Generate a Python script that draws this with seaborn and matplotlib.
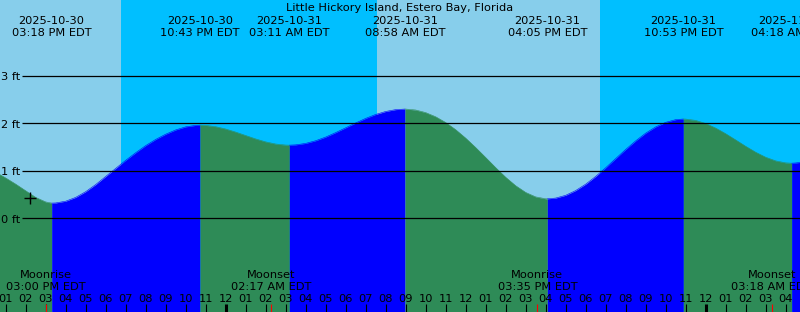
import numpy as np
import pandas as pd
import matplotlib
matplotlib.use("Agg")
import matplotlib.pyplot as plt
import matplotlib.transforms as mtransforms
import seaborn as sns

# ---------------- data ----------------
title = "Little Hickory Island, Estero Bay, Florida"
base_day = "2025-10-30 00:00"
view_start = "2025-10-30 12:43"
view_hours = 40

event_times = ["2025-10-30 15:18", "2025-10-30 22:43", "2025-10-31 03:11",
               "2025-10-31 08:58", "2025-10-31 16:05", "2025-10-31 22:53",
               "2025-11-01 04:18"]
event_heights = [0.32, 1.96, 1.54, 2.30, 0.41, 2.09, 1.16]
event_dates = ["2025-10-30", "2025-10-30", "2025-10-31", "2025-10-31",
               "2025-10-31", "2025-10-31", "2025-11-01"]
event_clock = ["03:18 PM EDT", "10:43 PM EDT", "03:11 AM EDT", "08:58 AM EDT",
               "04:05 PM EDT", "10:53 PM EDT", "04:18 AM EDT"]

# half-hourly readings of the tide curve (ft), starting 2025-10-30 12:00
curve_start = "2025-10-30 12:00"
curve_step_minutes = 30
curve_heights = [
    1.08, 0.97, 0.85, 0.72, 0.58, 0.44, 0.345, 0.323,          # 12:00-15:30
    0.36, 0.44, 0.56, 0.71, 0.88, 1.05, 1.22, 1.38,            # 16:00-19:30
    1.53, 1.66, 1.77, 1.86, 1.925, 1.956, 1.956, 1.929,        # 20:00-23:30
    1.88, 1.815, 1.743, 1.671, 1.609, 1.564, 1.542, 1.546,     # 00:00-03:30
    1.577, 1.633, 1.71, 1.804, 1.905, 2.007, 2.103, 2.186,     # 04:00-07:30
    2.249, 2.288, 2.30, 2.28, 2.226, 2.138, 2.017, 1.866,      # 08:00-11:30
    1.688, 1.49, 1.28, 1.067, 0.864, 0.686, 0.545, 0.451,      # 12:00-15:30
    0.411, 0.426, 0.484, 0.584, 0.718, 0.881, 1.064, 1.257,    # 16:00-19:30
    1.449, 1.63, 1.792, 1.924, 2.02, 2.077, 2.089, 2.061,      # 20:00-23:30
    1.996, 1.90, 1.781, 1.65, 1.516, 1.391, 1.286, 1.209,      # 00:00-03:30
    1.167, 1.165, 1.19,                                        # 04:00-05:00
]

sun_times = ["2025-10-30 18:46", "2025-10-31 07:34", "2025-10-31 18:43"]

moon_names = ["Moonrise", "Moonset", "Moonrise", "Moonset"]
moon_times = ["2025-10-30 15:00", "2025-10-31 02:17", "2025-10-31 15:35",
              "2025-11-01 03:18"]
moon_clock = ["03:00 PM EDT", "02:17 AM EDT", "03:35 PM EDT", "03:18 AM EDT"]

height_ticks = [0, 1, 2, 3]
height_labels = ["0 ft", "1 ft", "2 ft", "3 ft"]

now_time = "2025-10-30 14:13"
now_height = 0.42

# ---------------- helpers ----------------
base = pd.Timestamp(base_day)


def hrs(s):
    return (pd.Timestamp(s) - base).total_seconds() / 3600.0


DAY = "#87CEEB"
NIGHT = "#00BFFF"
FALL = "#2E8B57"
RISE = "#0000FF"

W, H = 800, 312
ZERO_PX, FT_PX = 218.3, 47.5
FS = 8.2

x0 = hrs(view_start)
x1 = x0 + view_hours
ybot = (ZERO_PX - H) / FT_PX
ytop = ZERO_PX / FT_PX

ev_t = np.array([hrs(s) for s in event_times])
ev_h = np.array(event_heights)
cv_t = hrs(curve_start) + np.arange(len(curve_heights)) * curve_step_minutes / 60.0
cv_h = np.array(curve_heights)

df = pd.DataFrame({"t": np.concatenate([cv_t, ev_t]),
                   "h": np.concatenate([cv_h, ev_h])}).sort_values("t")
df = df.drop_duplicates("t").reset_index(drop=True)

sns.set_theme(style="white")
plt.rcParams["font.family"] = ["DejaVu Sans"]

fig = plt.figure(figsize=(W / 100, H / 100), dpi=100)
ax = fig.add_axes([0, 0, 1, 1])

# day / night background
edges = [x0] + [hrs(s) for s in sun_times] + [x1]
for i in range(len(edges) - 1):
    ax.axvspan(edges[i], edges[i + 1], color=DAY if i % 2 == 0 else NIGHT,
               lw=0, zorder=0)

# tide fill, coloured by rising / falling
bounds = [df.t.min()] + list(ev_t) + [df.t.max()]
for a, b in zip(bounds[:-1], bounds[1:]):
    seg = df[(df.t >= a - 1e-9) & (df.t <= b + 1e-9)]
    col = RISE if seg.h.iloc[-1] > seg.h.iloc[0] else FALL
    ax.fill_between(seg.t, seg.h, ybot, color=col, lw=0, zorder=1)
    sns.lineplot(data=seg, x="t", y="h", color=col, lw=0.4, ax=ax,
                 legend=False, zorder=1.5, estimator=None)

ax.set_xlim(x0, x1)
ax.set_ylim(ybot, ytop)
ax.axis("off")

# height grid lines
line_start = x0 + 22 / 20.0
ax.hlines(height_ticks, line_start, x1, color="black", lw=0.9, zorder=3)
for v, lab in zip(height_ticks, height_labels):
    ax.text(x0 + 20 / 20.0, v - 4.3 / FT_PX, lab, ha="right", va="baseline",
            fontsize=FS, color="black", zorder=4)

trans = mtransforms.blended_transform_factory(ax.transData, ax.transAxes)


def yfrac(px):
    return 1 - px / H


# title
ax.text(0.5, yfrac(11), title, transform=ax.transAxes, ha="center",
        va="baseline", fontsize=FS, color="black", zorder=5)

# tide event labels
for t, d, c in zip(ev_t, event_dates, event_clock):
    ax.text(t, yfrac(24), d, transform=trans, ha="center", va="baseline",
            fontsize=FS, color="black", zorder=5)
    ax.text(t, yfrac(36.3), c, transform=trans, ha="center", va="baseline",
            fontsize=FS, color="black", zorder=5)

# moon labels
for n, s, c in zip(moon_names, moon_times, moon_clock):
    t = hrs(s)
    ax.text(t, yfrac(278.3), n, transform=trans, ha="center", va="baseline",
            fontsize=FS, color="black", zorder=5)
    ax.text(t, yfrac(290), c, transform=trans, ha="center", va="baseline",
            fontsize=FS, color="black", zorder=5)

# hour ticks and labels
tick_top = (ZERO_PX - 304) / FT_PX
for hr in range(int(np.ceil(x0)), int(np.floor(x1)) + 1):
    lab = "%02d" % ((hr - 1) % 12 + 1)
    ax.text(hr, yfrac(301.7), lab, transform=trans, ha="center",
            va="baseline", fontsize=FS, color="black", zorder=5)
    ax.vlines(hr, ybot, tick_top, color="black",
              lw=2.2 if hr % 24 == 0 else 0.8, zorder=5)
for s in moon_times:
    ax.vlines(hrs(s), ybot, tick_top, color="red", lw=0.8, zorder=6)

# current time marker
ax.plot([hrs(now_time)], [now_height], marker="+", color="black",
        markersize=9, mew=1.0, zorder=6)

fig.savefig("out.png", dpi=100)
